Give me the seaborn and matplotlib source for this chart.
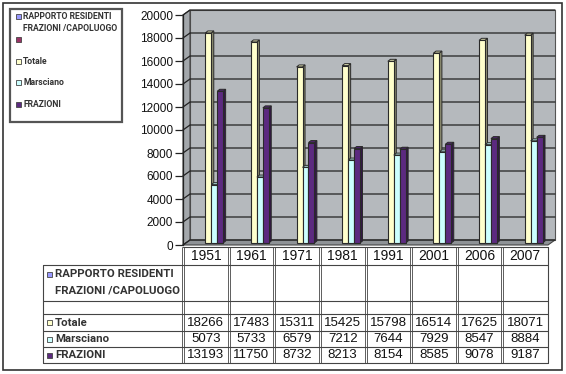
import numpy as np
import pandas as pd
import seaborn as sns
import matplotlib
matplotlib.use("Agg")
import matplotlib.pyplot as plt
from matplotlib.patches import Polygon, Rectangle
from matplotlib.transforms import IdentityTransform, Affine2D
import matplotlib.colors as mcolors

# ---------------- data ----------------
years = ["1951", "1961", "1971", "1981", "1991", "2001", "2006", "2007"]
totale = [18266, 17483, 15311, 15425, 15798, 16514, 17625, 18071]
marsciano = [5073, 5733, 6579, 7212, 7644, 7929, 8547, 8884]
frazioni = [13193, 11750, 8732, 8213, 8154, 8585, 9078, 9187]
series_keys = ["RAPPORTO", "S2", "Totale", "Marsciano", "FRAZIONI"]
series_labels = ["RAPPORTO RESIDENTI\nFRAZIONI /CAPOLUOGO", "", "Totale", "Marsciano", "FRAZIONI"]
series_colors = ["#9999FF", "#993366", "#FFFFCC", "#CCFFFF", "#5C2A80"]
yticks = list(range(0, 20001, 2000))

sns.set_theme(style="white")
NARROW = ["Roboto", "DejaVu Sans"]
SANS = ["Liberation Sans", "DejaVu Sans"]
plt.rcParams["font.family"] = SANS

W, H = 566, 374
fig = plt.figure(figsize=(W / 100, H / 100), dpi=100, facecolor="white")

# overlay axes in pixel coords (y down)
ov = fig.add_axes([0, 0, 1, 1], zorder=0)
ov.set_xlim(0, W)
ov.set_ylim(H, 0)
ov.axis("off")

# main chart axes (front plane)
FL, FR, FB, FT = 183, 548, 245, 15
ax = fig.add_axes([FL / W, (H - FB) / H, (FR - FL) / W, (FB - FT) / H], zorder=1)
ax.patch.set_visible(False)

df = pd.DataFrame({
    "year": years * 3,
    "value": totale + marsciano + frazioni,
    "series": ["Totale"] * 8 + ["Marsciano"] * 8 + ["FRAZIONI"] * 8,
})
sns.barplot(data=df, x="year", y="value", hue="series", order=years,
            hue_order=series_keys, palette=dict(zip(series_keys, series_colors)),
            width=0.65, saturation=1, edgecolor="#2a2a2a", linewidth=0.8,
            legend=False, ax=ax)

ax.set_xlim(-0.5, len(years) - 0.5)
ax.set_ylim(0, 20000)
ax.set_yticks(yticks)
ax.set_yticklabels([str(t) for t in yticks], fontsize=8.5, color="#111",
                   family=SANS)
ax.set_xticks([])
ax.set_xlabel("")
ax.set_ylabel("")
ax.tick_params(axis="y", length=5.5, width=0.9, color="#222", pad=1.5, left=True)
for s in ["top", "right", "bottom"]:
    ax.spines[s].set_visible(False)
ax.spines["left"].set_color("#222")
ax.spines["left"].set_linewidth(0.9)
ax.grid(False)

# ---- 3D decorations in display coordinates ----
DX, DY = 7, 5
T = ax.transData
Xl, Yb = T.transform((-0.5, 0))
Xr, Yt = T.transform((len(years) - 0.5, 20000))
I = IdentityTransform()

ax.add_patch(Polygon([(Xl + DX, Yb + DY), (Xr + DX, Yb + DY), (Xr + DX, Yt + DY), (Xl + DX, Yt + DY)],
                     closed=True, facecolor="#B5B9BD", edgecolor="#555", lw=0.8,
                     transform=I, zorder=0.5, clip_on=False))
ax.add_patch(Polygon([(Xl, Yb), (Xl, Yt), (Xl + DX, Yt + DY), (Xl + DX, Yb + DY)],
                     closed=True, facecolor="#A3A7AB", edgecolor="#444", lw=0.8,
                     transform=I, zorder=0.6, clip_on=False))
ax.add_patch(Polygon([(Xl, Yb), (Xr, Yb), (Xr + DX, Yb + DY), (Xl + DX, Yb + DY)],
                     closed=True, facecolor="#8E9296", edgecolor="#444", lw=0.8,
                     transform=I, zorder=0.6, clip_on=False))
for t in yticks:
    _, Y = T.transform((0, t))
    ax.plot([Xl, Xl + DX, Xr + DX], [Y, Y + DY, Y + DY], color="#222", lw=0.9,
            transform=I, zorder=0.7, clip_on=False)

# bars: shift to mid-depth, add side and top faces
SX, SY = 2.5, 2.0
dx, dy = 2.5, 2.0
bars = [p for p in ax.patches if isinstance(p, Rectangle) and np.isfinite(p.get_height())
        and p.get_height() > 0 and p.get_width() < 1]
bars.sort(key=lambda p: p.get_x())
for k, p in enumerate(bars):
    x0, w, h = p.get_x(), p.get_width(), p.get_height()
    X0, Y0 = T.transform((x0, 0))
    X1, Y1 = T.transform((x0 + w, h))
    X0, X1, Y0, Y1 = X0 + SX, X1 + SX, Y0 + SY, Y1 + SY
    fc = np.array(mcolors.to_rgb(p.get_facecolor()))
    z = 2 + 2 * k
    p.set_transform(T + Affine2D().translate(SX, SY))
    p.set_zorder(z + 1)
    p.set_clip_on(False)
    ax.add_patch(Polygon([(X1, Y0), (X1, Y1), (X1 + dx, Y1 + dy), (X1 + dx, Y0 + dy)],
                         closed=True, facecolor=fc * 0.55, edgecolor="#2a2a2a", lw=0.7,
                         transform=I, zorder=z, clip_on=False))
    ax.add_patch(Polygon([(X0, Y1), (X1, Y1), (X1 + dx, Y1 + dy), (X0 + dx, Y1 + dy)],
                         closed=True, facecolor=fc * 0.85, edgecolor="#2a2a2a", lw=0.7,
                         transform=I, zorder=z, clip_on=False))

# ---------------- borders ----------------
ov.add_patch(Rectangle((3, 3), 559, 367, facecolor="none", edgecolor="#333", lw=1.2))

# ---------------- legend ----------------
ov.add_patch(Rectangle((10, 9), 112, 113, facecolor="white", edgecolor="#555", lw=1.6))
leg_y = [16, 39, 61, 82, 104]
for key, lab, col, y in zip(series_keys, series_labels, series_colors, leg_y):
    ov.add_patch(Rectangle((16, y - 2.5), 5, 5, facecolor=col, edgecolor="#444", lw=0.6))
    if lab:
        lines = lab.split("\n")
        for j, ln in enumerate(lines):
            ov.text(23, y + 12 * j, ln, fontsize=6.2, fontweight="bold", family=NARROW,
                    color="#333", va="center", ha="left")

# ---------------- data table ----------------
col_x = [T.transform((i - 0.5, 0))[0] for i in range(len(years) + 1)]
TL = 43
y_head_top, y_r1, y_r2, y_r3, y_r4, y_r5, y_bot = 247, 265, 301, 314, 331, 347, 363
line_kw = dict(color="#444", lw=0.8)
for yy in [y_r1, y_r2, y_r3, y_r4, y_r5, y_bot]:
    ov.plot([TL, col_x[-1]], [yy, yy], **line_kw)
ov.plot([col_x[0], col_x[-1]], [y_head_top, y_head_top], **line_kw)
ov.plot([TL, TL], [y_r1, y_bot], **line_kw)
for i, xb in enumerate(col_x):
    if i < len(col_x) - 1:
        ov.plot([xb - 1, xb - 1], [y_head_top, y_bot], color="#444", lw=0.6)
        ov.plot([xb + 1, xb + 1], [y_head_top, y_bot], color="#444", lw=0.6)
    else:
        ov.plot([xb, xb], [y_head_top, y_bot], **line_kw)

for i, yr in enumerate(years):
    cx = (col_x[i] + col_x[i + 1]) / 2
    ov.text(cx, (y_head_top + y_r1) / 2 + 0.5, yr, fontsize=10, family=SANS,
            color="#111", ha="center", va="center")

# row labels
LBL_FS = 8.2
def row_label(y, lab, col, swatch=True):
    if swatch:
        ov.add_patch(Rectangle((47, y - 2.5), 5, 5, facecolor=col, edgecolor="#444", lw=0.6))
    ov.text(55, y, lab, fontsize=LBL_FS, fontweight="bold", family=NARROW, color="#333",
            ha="left", va="center")

rl = series_labels[0].split("\n")
row_label(274, rl[0], series_colors[0])
ov.text(55, 291, rl[1], fontsize=LBL_FS, fontweight="bold", family=NARROW, color="#333",
        ha="left", va="center")
row_label((y_r3 + y_r4) / 2, series_labels[2], series_colors[2])
row_label((y_r4 + y_r5) / 2, series_labels[3], series_colors[3])
row_label((y_r5 + y_bot) / 2, series_labels[4], series_colors[4])

for vals, (ya, yb_) in zip([totale, marsciano, frazioni],
                           [(y_r3, y_r4), (y_r4, y_r5), (y_r5, y_bot)]):
    for i, v in enumerate(vals):
        cx = (col_x[i] + col_x[i + 1]) / 2
        ov.text(cx, (ya + yb_) / 2 + 0.5, str(v), fontsize=9.5, family=SANS,
                color="#111", ha="center", va="center")

fig.savefig("out.png", dpi=100, facecolor="white")
